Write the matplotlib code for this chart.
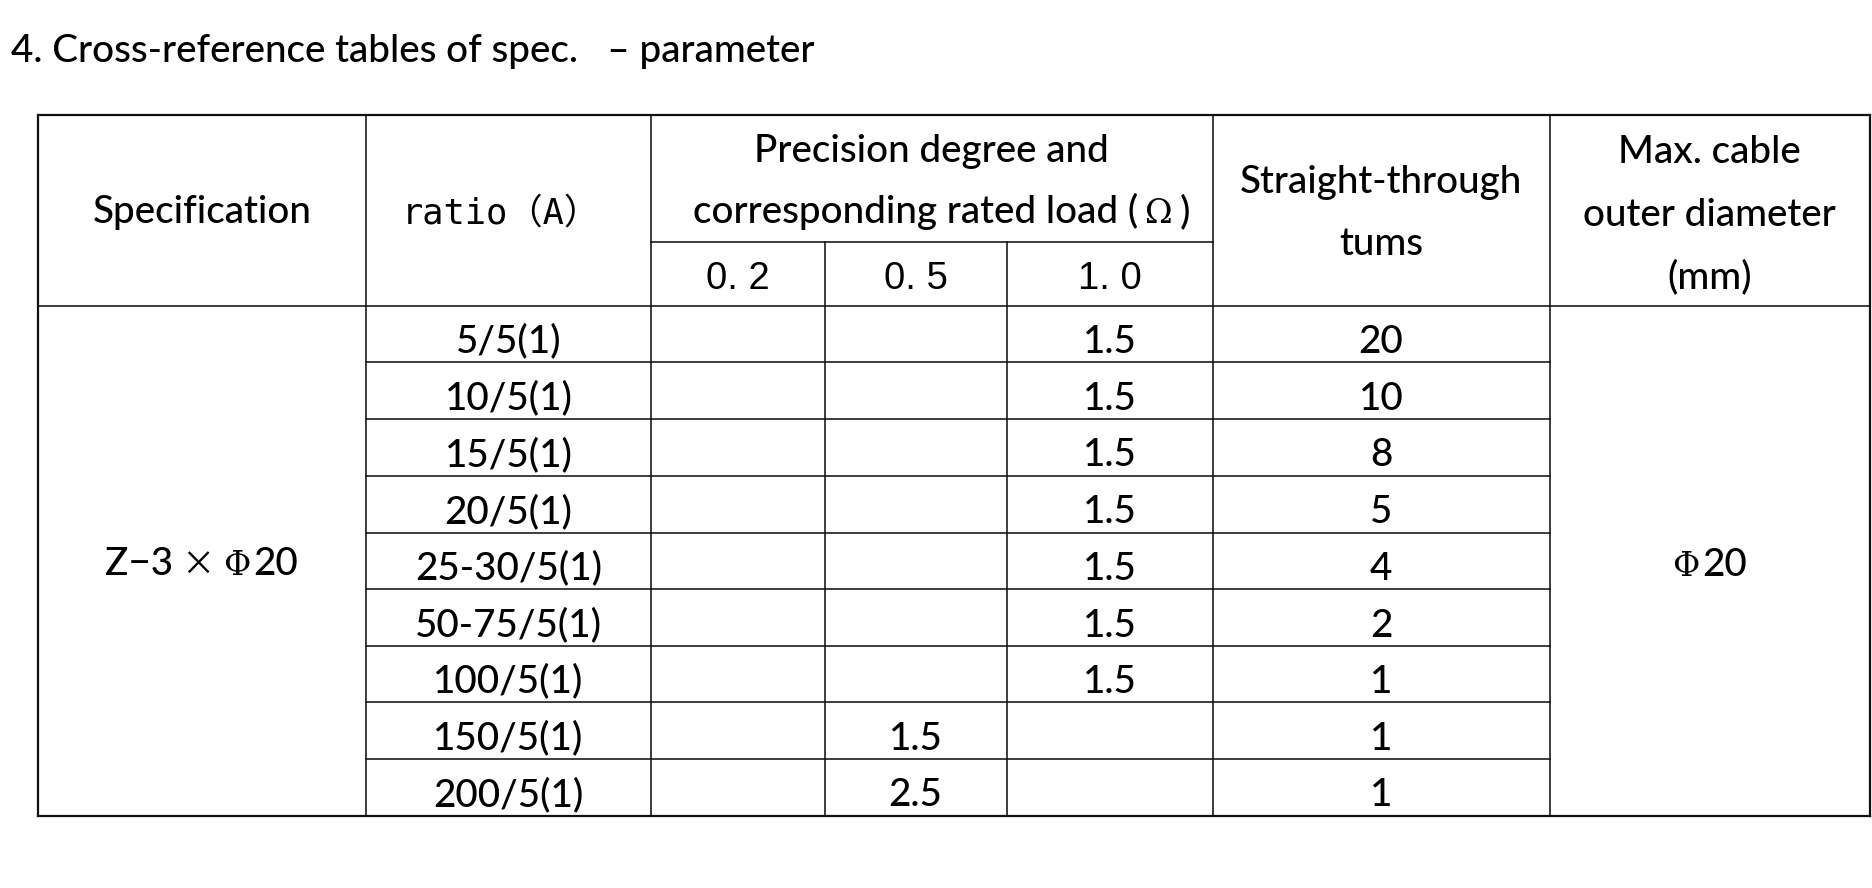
import matplotlib
matplotlib.use("Agg")
import matplotlib.pyplot as plt

# ---------------- data ----------------
title = "4. Cross-reference tables of spec.   \u2013 parameter"
specification = "Z\u22123\u00d7\u03a620"
ratios = ["5/5(1)", "10/5(1)", "15/5(1)", "20/5(1)", "25-30/5(1)",
          "50-75/5(1)", "100/5(1)", "150/5(1)", "200/5(1)"]
precision_classes = ["0. 2", "0. 5", "1. 0"]
load_02 = ["", "", "", "", "", "", "", "", ""]
load_05 = ["", "", "", "", "", "", "", "1.5", "2.5"]
load_10 = ["1.5", "1.5", "1.5", "1.5", "1.5", "1.5", "1.5", "", ""]
turns = ["20", "10", "8", "5", "4", "2", "1", "1", "1"]
max_diameter = "\u03a620"

# ---------------- layout ----------------
W, H = 1872, 888
fig = plt.figure(figsize=(W / 100, H / 100), dpi=100)
ax = fig.add_axes([0, 0, 1, 1])
ax.set_xlim(0, W)
ax.set_ylim(H, 0)
ax.axis("off")
renderer = fig.canvas.get_renderer()

col = [37.6, 366, 651, 824.5, 1006.5, 1212.5, 1549.5, 1870]
top, mid, hbot = 115, 242, 306
rows = [306, 362, 419, 475.5, 532.5, 589, 646, 702, 759, 815.7]
bottom = rows[-1]

LINE = "#111111"
lw_in = 1.15
lw_out = 1.6

BODY = dict(family=["Lato", "DejaVu Sans"], fontsize=27.8, fontweight="medium", color="black")
MONO = dict(family=["DejaVu Sans Mono", "Noto Sans CJK SC"], fontsize=25.5, color="black")
ARIAL = dict(family=["Liberation Sans", "DejaVu Sans"], fontsize=27.5, color="black")
SERIF = dict(family=["DejaVu Serif"], fontsize=24, color="black")
CJK = dict(family=["Noto Sans CJK SC", "DejaVu Sans"], fontsize=24, color="black")


def hline(y, x0, x1, lw=lw_in):
    ax.plot([x0, x1], [y, y], color=LINE, lw=lw, solid_capstyle="projecting")


def vline(x, y0, y1, lw=lw_in):
    ax.plot([x, x], [y0, y1], color=LINE, lw=lw, solid_capstyle="projecting")


def text(x, y, s, props, ha="center"):
    ax.text(x, y, s, ha=ha, va="baseline", **props)


def runs(x, y, items):
    """items: list of (string, props, gap_after)"""
    objs, widths = [], []
    for s, p, g in items:
        t = ax.text(0, y, s, ha="left", va="baseline", **p)
        w = t.get_window_extent(renderer=renderer).width
        objs.append(t)
        widths.append(w + g)
    total = sum(widths) - items[-1][2]
    cur = x - total / 2
    for t, w in zip(objs, widths):
        t.set_x(cur)
        cur += w


# ---------------- grid ----------------
hline(top, col[0], col[-1], lw_out)
hline(bottom, col[0], col[-1], lw_out)
vline(col[0], top, bottom, lw_out)
vline(col[-1], top, bottom, lw_out)
hline(hbot, col[0], col[-1], lw_in)
for c in (col[1], col[2], col[5], col[6]):
    vline(c, top, bottom)
for c in (col[3], col[4]):
    vline(c, mid, bottom)
hline(mid, col[2], col[5])
for r in rows[1:-1]:
    hline(r, col[1], col[6])

# ---------------- title ----------------
ax.text(11, 62, title, ha="left", va="baseline", **BODY)

# ---------------- header ----------------
cx = [(col[i] + col[i + 1]) / 2 for i in range(len(col) - 1)]
text(cx[0], 223, "Specification", BODY)
text(cx[1] - 8, 224, "ratio\uff08A\uff09", MONO)
pc = (col[2] + col[5]) / 2
text(pc, 162, "Precision degree and", BODY)
runs(pc + 10, 223, [("corresponding rated load (", BODY, 7),
                    ("\u03a9", SERIF, 7),
                    (")", BODY, 0)])
for i, lab in enumerate(precision_classes):
    text(cx[2 + i], 289, lab, ARIAL)
text(cx[5], 193, "Straight-through", BODY)
text(cx[5], 255, "tums", BODY)
text(cx[6], 163, "Max. cable", BODY)
text(cx[6], 226, "outer diameter", BODY)
text(cx[6], 288, "(mm)", BODY)

# ---------------- body ----------------
for i in range(len(ratios)):
    base = rows[i + 1] - 9.5
    text(cx[1], base, ratios[i], BODY)
    text(cx[2], base, load_02[i], BODY)
    text(cx[3], base, load_05[i], BODY)
    text(cx[4], base, load_10[i], BODY)
    text(cx[5], base, turns[i], BODY)

mid_body = (rows[0] + rows[-1]) / 2
spec_base = mid_body + 14
runs(cx[0], spec_base, [(specification[:3], BODY, 7),
                        (specification[3], CJK, 9),
                        (specification[4], SERIF, 3),
                        (specification[5:], BODY, 0)])
runs(cx[6], spec_base + 1, [(max_diameter[0], SERIF, 3),
                            (max_diameter[1:], BODY, 0)])

fig.savefig("out.png", dpi=100, facecolor="white")
